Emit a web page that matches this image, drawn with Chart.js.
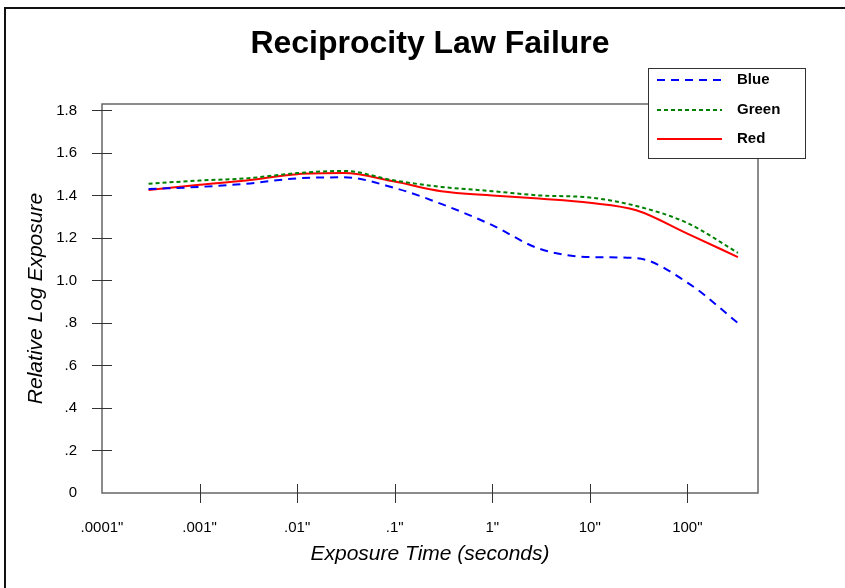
<!DOCTYPE html>
<html>
<head>
<meta charset="utf-8">
<script src="https://cdn.jsdelivr.net/npm/chart.js@4/dist/chart.umd.min.js"></script>
<style>
  html, body { margin: 0; padding: 0; background: #fff; }
  #wrap { width: 845px; height: 588px; }
</style>
</head>
<body>
<div id="wrap"><canvas id="rlf" width="845" height="588"></canvas></div>
<script>
// exposure times (seconds)
const exposureTimes = [0.0003, 0.001, 0.003, 0.01, 0.03, 0.1, 0.3, 1, 3, 10, 30, 100, 330];
// relative log exposure per layer
const blueValues  = [1.43, 1.44, 1.455, 1.48, 1.485, 1.435, 1.36, 1.26, 1.15, 1.11, 1.105, 0.99, 0.80];
const greenValues = [1.455, 1.47, 1.48, 1.505, 1.515, 1.47, 1.44, 1.42, 1.40, 1.39, 1.35, 1.27, 1.13];
const redValues   = [1.425, 1.45, 1.47, 1.50, 1.505, 1.465, 1.42, 1.40, 1.385, 1.365, 1.33, 1.22, 1.11];

const xTicks = [0.0001, 0.001, 0.01, 0.1, 1, 10, 100];
const xTickLabels = ['.0001"', '.001"', '.01"', '.1"', '1"', '10"', '100"'];
const yTicks = [0, 0.2, 0.4, 0.6, 0.8, 1.0, 1.2, 1.4, 1.6, 1.8];
const yTickLabels = ['0', '.2', '.4', '.6', '.8', '1.0', '1.2', '1.4', '1.6', '1.8'];

const FONT = '"Liberation Sans", Arial, Helvetica, sans-serif';

const toPoints = vals => vals.map((v, i) => ({ x: exposureTimes[i], y: v }));

// white page, left/top page border, plot frame, cross ticks, title, legend box
const decor = {
  id: 'decor',
  beforeDraw(chart) {
    const ctx = chart.ctx;
    ctx.save();
    ctx.fillStyle = '#fff';
    ctx.fillRect(0, 0, chart.width, chart.height);
    ctx.strokeStyle = '#111';
    ctx.lineWidth = 2;
    ctx.beginPath();
    ctx.moveTo(5, chart.height);
    ctx.lineTo(5, 8);
    ctx.lineTo(chart.width, 8);
    ctx.stroke();
    ctx.restore();
  },
  beforeDatasetsDraw(chart) {
    const { ctx, chartArea: a, scales } = chart;
    ctx.save();
    ctx.strokeStyle = '#666';
    ctx.lineWidth = 1.5;
    ctx.strokeRect(a.left, a.top, a.right - a.left, a.bottom - a.top);

    ctx.strokeStyle = '#333';
    ctx.lineWidth = 1;
    ctx.beginPath();
    scales.y.ticks.forEach((t, i) => {
      if (i === 0) return;
      const py = Math.round(scales.y.getPixelForValue(t.value)) + 0.5;
      ctx.moveTo(a.left - 10, py);
      ctx.lineTo(a.left + 10, py);
    });
    scales.x.ticks.forEach((t, i) => {
      if (i === 0) return;
      const px = Math.round(scales.x.getPixelForValue(t.value)) + 0.5;
      ctx.moveTo(px, a.bottom - 9);
      ctx.lineTo(px, a.bottom + 10);
    });
    ctx.stroke();
    ctx.restore();
  },
  afterDraw(chart) {
    const { ctx, chartArea: a } = chart;
    ctx.save();
    // title
    ctx.fillStyle = '#000';
    ctx.font = 'bold 32px ' + FONT;
    ctx.textAlign = 'center';
    ctx.textBaseline = 'alphabetic';
    ctx.fillText('Reciprocity Law Failure', (a.left + a.right) / 2, 53);

    // legend
    const bx = 648.5, by = 68.5, bw = 157, bh = 90;
    ctx.fillStyle = '#fff';
    ctx.fillRect(bx, by, bw, bh);
    ctx.strokeStyle = '#333';
    ctx.lineWidth = 1;
    ctx.strokeRect(bx, by, bw, bh);
    ctx.font = 'bold 15px ' + FONT;
    ctx.textAlign = 'left';
    ctx.textBaseline = 'middle';
    const rowY = [80, 110, 139];
    chart.data.datasets.forEach((ds, i) => {
      ctx.strokeStyle = ds.borderColor;
      ctx.lineWidth = 2;
      ctx.setLineDash(ds.borderDash || []);
      ctx.beginPath();
      ctx.moveTo(657, rowY[i]);
      ctx.lineTo(722, rowY[i]);
      ctx.stroke();
      ctx.setLineDash([]);
      ctx.fillStyle = '#000';
      ctx.fillText(ds.label, 737, rowY[i]);
    });
    ctx.restore();
  }
};

new Chart(document.getElementById('rlf'), {
  type: 'line',
  data: {
    datasets: [
      { label: 'Blue', data: toPoints(blueValues), borderColor: '#0000ff', borderDash: [8, 6] },
      { label: 'Green', data: toPoints(greenValues), borderColor: '#008000', borderDash: [4, 3] },
      { label: 'Red', data: toPoints(redValues), borderColor: '#ff0000' }
    ]
  },
  options: {
    responsive: false,
    animation: false,
    events: [],
    layout: { padding: { top: 104, right: 87, left: 0, bottom: 0 } },
    elements: {
      point: { radius: 0 },
      line: { borderWidth: 2, cubicInterpolationMode: 'monotone', fill: false }
    },
    plugins: {
      legend: { display: false },
      title: { display: false },
      tooltip: { enabled: false }
    },
    scales: {
      x: {
        type: 'logarithmic',
        min: 0.0001,
        max: 530,
        afterFit: s => { s.height = 95; },
        afterBuildTicks: s => { s.ticks = xTicks.map(v => ({ value: v })); },
        grid: { display: false, drawTicks: false },
        border: { display: false },
        ticks: {
          autoSkip: false,
          maxRotation: 0,
          padding: 26,
          color: '#000',
          font: { family: FONT, size: 15 },
          callback: (v, i) => xTickLabels[i]
        },
        title: {
          display: true,
          text: 'Exposure Time (seconds)',
          color: '#000',
          font: { family: FONT, size: 21, style: 'italic' },
          padding: { top: 0, bottom: 21 }
        }
      },
      y: {
        min: 0,
        max: 1.83,
        afterFit: s => { s.width = 102; },
        afterBuildTicks: s => { s.ticks = yTicks.map(v => ({ value: v })); },
        grid: { display: false, drawTicks: false },
        border: { display: false },
        ticks: {
          padding: 25,
          color: '#000',
          font: { family: FONT, size: 15 },
          callback: (v, i) => yTickLabels[i]
        },
        title: {
          display: true,
          text: 'Relative Log Exposure',
          color: '#000',
          font: { family: FONT, size: 21, style: 'italic' },
          padding: { top: 24, bottom: 0 }
        }
      }
    }
  },
  plugins: [decor]
});
</script>
</body>
</html>
